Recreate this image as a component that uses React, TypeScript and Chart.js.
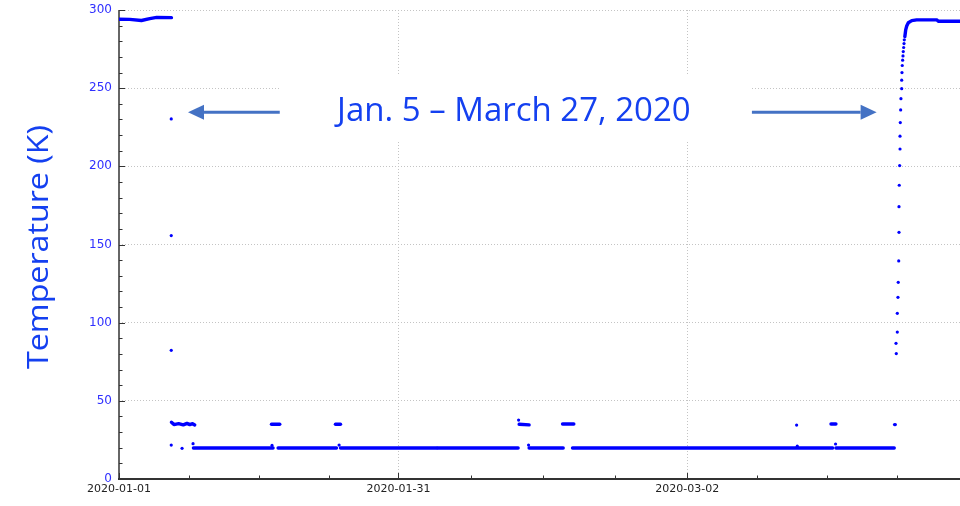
import React, { useEffect, useRef } from 'react';
import { Chart, registerables } from 'chart.js';

Chart.register(...registerables);

// ---- axis / tick data (x values are days since 2020-01-01) ----
const xMinDay = 0;
const xMaxDay = 90.29;
const xMajorTickDays = [0, 30, 61];
const xMajorTickLabels = ['2020-01-01', '2020-01-31', '2020-03-02'];
const xMinorTickDays = [7.5, 15, 22.5, 37.75, 45.5, 53.25, 68.5, 76, 83.5];
const yMin = 0;
const yMax = 300;
const yMajorTicks = [0, 50, 100, 150, 200, 250, 300];
const yMinorTicks = [10, 20, 30, 40, 60, 70, 80, 90, 110, 120, 130, 140, 160, 170, 180, 190, 210, 220, 230, 240, 260, 270, 280, 290];

const yAxisTitle = 'Temperature (K)';
const annotationText = 'Jan. 5 \u2013 March 27, 2020';
// annotation anchors in data coordinates [day, K]
const annotationBox = { x0: 17.26, x1: 67.95, y0: 215.6, y1: 258.4 };
const annotationTextAnchor: [number, number] = [42.39, 229];
const leftArrow = { fromDay: 17.26, toDay: 7.41, atK: 234.6 };
const rightArrow = { fromDay: 67.95, toDay: 81.34, atK: 234.6 };

// ---- series (day, temperature K) ----
const warmStartRun: [number, number][] = [
  [0, 294.1], [1.15, 294.0], [2.41, 293.3], [3.3, 294.5], [4.05, 295.3], [5.63, 295.1],
];

const baselineRuns: [number, number][][] = [
  [[7.99, 19.8], [16.54, 19.8]],
  [[17.08, 19.8], [23.35, 19.8]],
  [[23.78, 19.8], [34.12, 19.8]],
  [[34.23, 19.8], [42.85, 19.8]],
  [[44.03, 19.8], [47.69, 19.8]],
  [[48.69, 19.8], [76.62, 19.8]],
  [[76.97, 19.8], [83.23, 19.8]],
];

const plateauRuns: [number, number][][] = [
  [[5.63, 36.3], [5.9, 34.8], [6.4, 35.4], [6.9, 34.6], [7.3, 35.6], [7.6, 34.8], [7.9, 35.4], [8.13, 34.6]],
  [[16.37, 35], [17.26, 35]],
  [[23.24, 35], [23.78, 35]],
  [[42.96, 35], [44.03, 34.6]],
  [[47.62, 35.2], [48.83, 35.2]],
  [[76.44, 35.2], [76.97, 35.2]],
  [[83.27, 34.8], [83.34, 34.8]],
];

const isolatedPoints: [number, number][] = [
  [5.61, 230.3], [5.61, 155.7], [5.61, 82.3], [5.61, 21.7], [6.77, 19.6], [7.95, 22.6],
  [16.43, 21.5], [23.63, 21.7], [42.9, 37.7], [43.97, 21.7],
  [72.75, 34.5], [72.82, 21.0], [76.93, 22.4],
];

const rewarmPoints: [number, number][] = [
  [83.45, 80.2], [83.42, 86.8], [83.56, 94.0], [83.56, 106.0], [83.63, 116.2], [83.66, 125.8],
  [83.71, 139.5], [83.74, 157.8], [83.74, 174.2], [83.77, 187.9], [83.81, 200.5], [83.85, 211.1],
  [83.85, 219.3], [83.88, 228.0], [83.92, 236.1], [83.95, 243.3], [84.03, 249.7], [84.03, 255.1],
  [84.06, 260.0], [84.09, 264.5], [84.13, 267.9], [84.17, 270.6], [84.2, 273.4], [84.24, 276.0],
  [84.28, 278.5], [84.31, 280.9],
];

const rewarmRun: [number, number][] = [
  [84.37, 283.0], [84.46, 287.3], [84.57, 289.8], [84.74, 291.9], [85.11, 293.2], [85.64, 293.7],
  [87.79, 293.7], [87.96, 292.8], [90.29, 292.8],
];

const BLUE = '#0000ff';
const TEXT_BLUE = '#1440f0';
const ARROW_BLUE = '#4472C4';

const toXY = (pts: [number, number][]) => pts.map(([x, y]) => ({ x, y }));

const runDataset = (pts: [number, number][], label: string) => ({
  label,
  data: toXY(pts),
  showLine: true,
  borderColor: BLUE,
  backgroundColor: BLUE,
  borderWidth: 3.4,
  pointRadius: 0,
  borderCapStyle: 'round',
  borderJoinStyle: 'round',
  tension: 0,
  fill: false,
});

const dotDataset = (pts: [number, number][], label: string) => ({
  label,
  data: toXY(pts),
  showLine: false,
  pointRadius: 1.6,
  pointBorderWidth: 0,
  backgroundColor: BLUE,
  borderColor: BLUE,
});

const decorPlugin = {
  id: 'decor',
  beforeDatasetsDraw(chart: any) {
    const { ctx, chartArea: a, scales } = chart;
    const x = scales.x;
    const y = scales.y;
    ctx.save();
    // white annotation box (hides grid lines)
    const bx0 = x.getPixelForValue(annotationBox.x0);
    const bx1 = x.getPixelForValue(annotationBox.x1);
    const by0 = y.getPixelForValue(annotationBox.y1);
    const by1 = y.getPixelForValue(annotationBox.y0);
    ctx.fillStyle = '#ffffff';
    ctx.fillRect(bx0, by0, bx1 - bx0, by1 - by0);

    // axis lines
    ctx.setLineDash([]);
    ctx.lineWidth = 2;
    ctx.strokeStyle = '#666666';
    ctx.beginPath();
    ctx.moveTo(a.left, a.top);
    ctx.lineTo(a.left, a.bottom);
    ctx.stroke();
    ctx.strokeStyle = '#333333';
    ctx.beginPath();
    ctx.moveTo(a.left - 1, a.bottom);
    ctx.lineTo(a.right, a.bottom);
    ctx.stroke();

    // inward ticks
    ctx.lineWidth = 1;
    ctx.strokeStyle = '#333333';
    const drawY = (v: number, len: number) => {
      const py = Math.round(y.getPixelForValue(v)) + 0.5;
      ctx.beginPath();
      ctx.moveTo(a.left, py);
      ctx.lineTo(a.left + len, py);
      ctx.stroke();
    };
    yMajorTicks.forEach((v) => drawY(v, 6));
    yMinorTicks.forEach((v) => drawY(v, 3.5));
    const drawX = (v: number, len: number) => {
      const px = Math.round(x.getPixelForValue(v)) + 0.5;
      ctx.beginPath();
      ctx.moveTo(px, a.bottom);
      ctx.lineTo(px, a.bottom - len);
      ctx.stroke();
    };
    xMajorTickDays.forEach((v) => drawX(v, 6));
    xMinorTickDays.forEach((v) => drawX(v, 3.5));
    ctx.restore();
  },
  afterDraw(chart: any) {
    const { ctx, scales } = chart;
    const x = scales.x;
    const y = scales.y;
    ctx.save();

    // annotation text
    ctx.fillStyle = TEXT_BLUE;
    ctx.font = '33px "Open Sans", "Noto Sans", sans-serif';
    ctx.textAlign = 'center';
    ctx.textBaseline = 'alphabetic';
    const tw = ctx.measureText(annotationText).width;
    const targetW = 358;
    const sx = Math.min(1, targetW / tw);
    ctx.save();
    ctx.translate(x.getPixelForValue(annotationTextAnchor[0]), y.getPixelForValue(annotationTextAnchor[1]));
    ctx.scale(sx, 1);
    ctx.fillText(annotationText, 0, 0);
    ctx.restore();

    // arrows
    const drawArrow = (fromDay: number, toDay: number, k: number) => {
      const x0 = x.getPixelForValue(fromDay);
      const x1 = x.getPixelForValue(toDay);
      const py = y.getPixelForValue(k);
      const dir = Math.sign(x1 - x0);
      const headLen = 16;
      const headHalf = 7.5;
      ctx.strokeStyle = ARROW_BLUE;
      ctx.fillStyle = ARROW_BLUE;
      ctx.lineWidth = 3;
      ctx.beginPath();
      ctx.moveTo(x0, py);
      ctx.lineTo(x1 - dir * headLen, py);
      ctx.stroke();
      ctx.beginPath();
      ctx.moveTo(x1, py);
      ctx.lineTo(x1 - dir * headLen, py - headHalf);
      ctx.lineTo(x1 - dir * headLen, py + headHalf);
      ctx.closePath();
      ctx.fill();
    };
    drawArrow(leftArrow.fromDay, leftArrow.toDay, leftArrow.atK);
    drawArrow(rightArrow.fromDay, rightArrow.toDay, rightArrow.atK);

    // y axis title
    ctx.fillStyle = TEXT_BLUE;
    ctx.font = '30px "Open Sans", "Noto Sans", sans-serif';
    ctx.textAlign = 'center';
    ctx.textBaseline = 'alphabetic';
    const ttw = ctx.measureText(yAxisTitle).width;
    const tsx = Math.min(1.1, 244 / ttw);
    ctx.translate(48, 247);
    ctx.rotate(-Math.PI / 2);
    ctx.scale(tsx, 1);
    ctx.fillText(yAxisTitle, 0, 0);
    ctx.restore();
  },
};

export default function App() {
  const canvasRef = useRef<HTMLCanvasElement | null>(null);

  useEffect(() => {
    document.body.style.margin = '0';
    const canvas = canvasRef.current;
    if (!canvas) return;

    const datasets: any[] = [
      runDataset(warmStartRun, 'warm start'),
      ...baselineRuns.map((r, i) => runDataset(r, 'baseline ' + i)),
      ...plateauRuns.map((r, i) => runDataset(r, 'plateau ' + i)),
      dotDataset(isolatedPoints, 'isolated'),
      dotDataset(rewarmPoints, 'rewarm'),
      runDataset(rewarmRun, 'rewarm run'),
    ];

    const allXTicks = [...xMajorTickDays, ...xMinorTickDays].sort((a, b) => a - b);

    const chart = new Chart(canvas, {
      type: 'scatter',
      data: { datasets },
      options: {
        animation: false,
        responsive: false,
        maintainAspectRatio: false,
        layout: { autoPadding: false, padding: { top: 10, right: 0, left: 0, bottom: 0 } },
        plugins: { legend: { display: false }, tooltip: { enabled: false } },
        scales: {
          x: {
            type: 'linear',
            min: xMinDay,
            max: xMaxDay,
            afterBuildTicks: (scale: any) => {
              scale.ticks = allXTicks.map((v) => ({ value: v }));
            },
            afterFit: (scale: any) => {
              scale.height = 27;
              scale.paddingLeft = 0;
              scale.paddingRight = 0;
              scale.paddingTop = 0;
              scale.paddingBottom = 0;
            },
            ticks: {
              autoSkip: false,
              maxRotation: 0,
              minRotation: 0,
              padding: 4,
              color: '#222222',
              font: { family: '"DejaVu Sans", sans-serif', size: 11 },
              callback: (value: any) => {
                const idx = xMajorTickDays.indexOf(Number(value));
                return idx >= 0 ? xMajorTickLabels[idx] : '';
              },
            },
            grid: {
              drawTicks: false,
              lineWidth: 1,
              color: (ctx: any) =>
                ctx.tick && xMajorTickDays.includes(ctx.tick.value) && ctx.tick.value !== 0
                  ? '#c4c4c4'
                  : 'rgba(0,0,0,0)',
            },
            border: { display: false, dash: [1, 2] },
          },
          y: {
            type: 'linear',
            min: yMin,
            max: yMax,
            afterBuildTicks: (scale: any) => {
              scale.ticks = yMajorTicks.map((v) => ({ value: v }));
            },
            afterFit: (scale: any) => {
              scale.width = 119;
              scale.paddingLeft = 0;
              scale.paddingRight = 0;
              scale.paddingTop = 0;
              scale.paddingBottom = 0;
            },
            ticks: {
              padding: 7,
              color: '#2f2fff',
              font: { family: '"DejaVu Sans", sans-serif', size: 12 },
            },
            grid: {
              drawTicks: false,
              lineWidth: 1,
              color: (ctx: any) => (ctx.tick && ctx.tick.value !== 0 ? '#c4c4c4' : 'rgba(0,0,0,0)'),
            },
            border: { display: false, dash: [1, 2] },
          },
        },
      } as any,
      plugins: [decorPlugin],
    });

    return () => {
      chart.destroy();
    };
  }, []);

  return (
    <div style={{ position: 'absolute', left: 0, top: 0, width: 960, height: 506, background: '#ffffff' }}>
      <canvas ref={canvasRef} width={960} height={506} style={{ display: 'block', width: 960, height: 506 }} />
    </div>
  );
}
